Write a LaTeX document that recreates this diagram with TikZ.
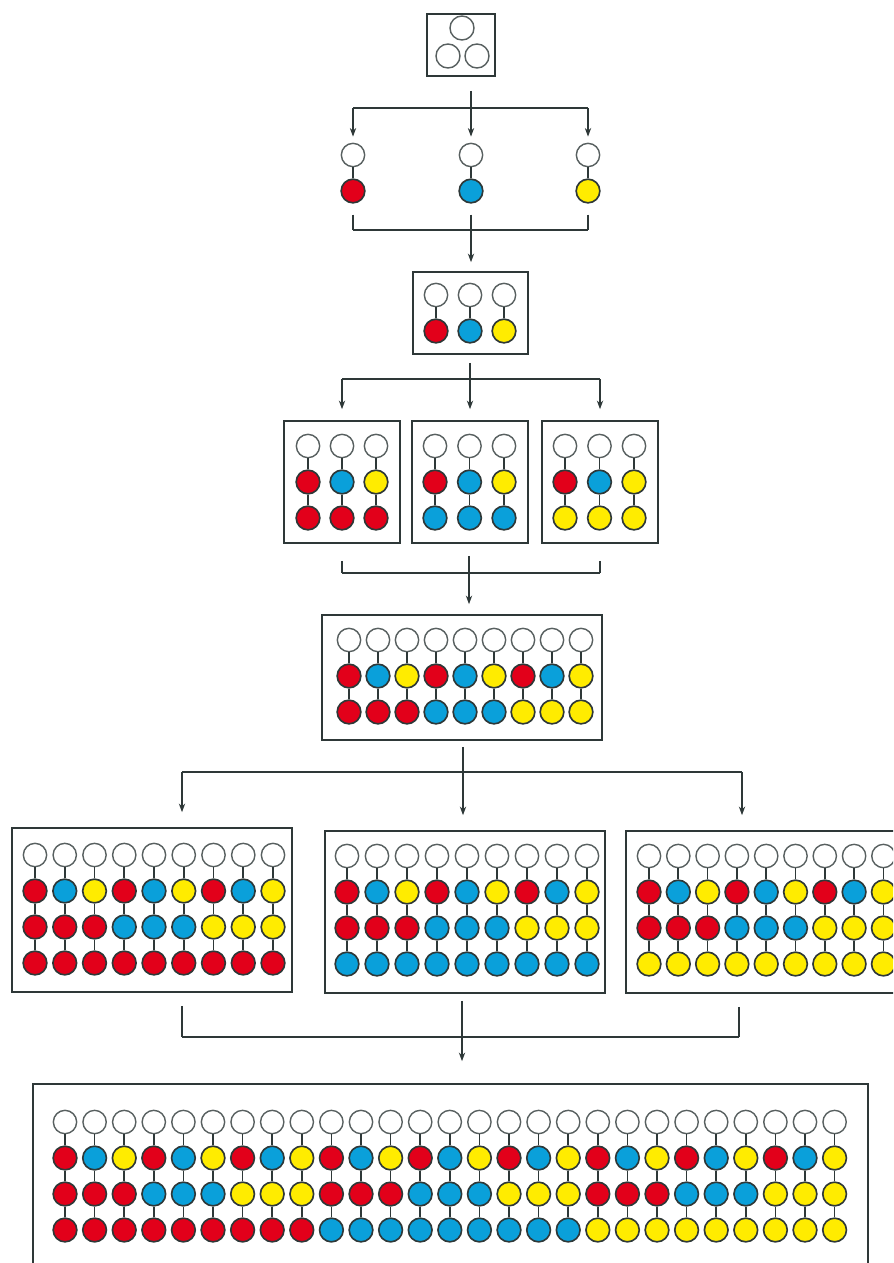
\documentclass[tikz,border=0pt]{standalone}
\usetikzlibrary{arrows.meta,fit}
\definecolor{bead0}{HTML}{E2001A}
\definecolor{bead1}{HTML}{0AA0DA}
\definecolor{bead2}{HTML}{FFEC00}
\definecolor{ink}{HTML}{2E3838}
\tikzset{
  slot/.style={circle, draw=ink!80, line width=1.2pt, fill=white, inner sep=0pt, minimum size=7mm},
  bead/.style={circle, draw=ink, line width=1.4pt, inner sep=0pt, minimum size=7.1mm},
  stem/.style={draw=ink, line width=1.4pt},
  tray/.style={draw=ink, line width=1.4pt, inner sep=0pt},
  wire/.style={draw=ink, line width=1.1pt},
  feed/.style={-{Stealth[length=2.6mm,width=1.9mm]}}
}

\begin{document}
\begin{tikzpicture}[x=0.3mm, y=-0.3mm]
  \useasboundingbox (0,0) rectangle (893,1263);
  \clip (0,0) rectangle (893,1263);
  % trays
  \node[tray, fit={(427,14) (495,76)}] (top) {};
  \node[tray, fit={(413,272) (528,354)}] (b2) {};
  \node[tray, fit={(284,421) (400,543)}] (b3a) {};
  \node[tray, fit={(412,421) (528,543)}] (b3b) {};
  \node[tray, fit={(542,421) (658,543)}] (b3c) {};
  \node[tray, fit={(322,615) (602,740)}] (b4) {};
  \node[tray, fit={(12,828) (292,992)}] (b5a) {};
  \node[tray, fit={(325,831) (605,993)}] (b5b) {};
  \node[tray, fit={(626,831) (930,993)}] (b5c) {};
  \node[tray, fit={(33,1084) (868,1300)}] (b6) {};
  % three empty places
  \node[slot, minimum size=7.2mm] (t1) at (462,28) {};
  \node[slot, minimum size=7.2mm] (t2) at (448,56) {};
  \node[slot, minimum size=7.2mm] (t3) at (477,56) {};
  % bead columns: name / first index / count / x / dx / y / levels
  \foreach \bx/\gi/\n/\xa/\dx/\ya/\lv in {
      p0/0/1/353/0/155/1, p1/1/1/471/0/155/1, p2/2/1/588/0/155/1,
      b2/0/3/436/34/295/1,
      b3a/0/3/308/34/446/2, b3b/3/3/435/34.5/446/2, b3c/6/3/565/34.5/446/2,
      b4/0/9/349/29/640/2,
      b5a/0/9/35/29.75/855/3, b5b/9/9/347/30/856/3, b5c/18/9/649/29.3/856/3,
      b6/0/27/65/29.6/1122/3}{
    \pgfmathtruncatemacro\nm{\n-1}
    \foreach \i in {0,...,\nm}{
      \pgfmathsetmacro\x{\xa+\i*\dx}
      \pgfmathtruncatemacro\g{\gi+\i}
      \node[slot] (\bx-\i-0) at (\x,\ya) {};
      \foreach \l in {1,...,\lv}{
        \pgfmathtruncatemacro\c{mod(floor((\g+0.5)/3^(\l-1)),3)}
        \pgfmathtruncatemacro\k{\l-1}
        \node[bead, fill=bead\c] (\bx-\i-\l) at (\x,\ya+\l*36) {};
        \draw[stem] (\bx-\i-\k) -- (\bx-\i-\l);
      }
    }
  }
  % split 1
  \coordinate (s1) at (471,108);
  \draw[wire] ([yshift=-4.2mm]top.south -| s1) -- (s1);
  \draw[wire] (s1 -| p0-0-0) -- (s1 -| p2-0-0);
  \foreach \p in {p0,p1,p2}
    \draw[wire,feed] (s1 -| \p-0-0) -- ([yshift=1.8mm]\p-0-0.north);
  % merge 1
  \coordinate (m1) at (471,230);
  \foreach \p in {p0,p2}
    \draw[wire] ([yshift=-3.3mm]\p-0-1.south) -- (m1 -| \p-0-1);
  \draw[wire] (m1 -| p0-0-1) -- (m1 -| p2-0-1);
  \draw[wire,feed] ([yshift=-3.3mm]p1-0-1.south) -- ([yshift=2.7mm]b2.north -| m1);
  % split 2
  \coordinate (s2) at (470,379);
  \draw[wire] ([yshift=-2.4mm]b2.south -| s2) -- (s2);
  \draw[wire] (s2 -| b3a) -- (s2 -| b3c);
  \foreach \b in {b3a,b3b,b3c}
    \draw[wire,feed] (s2 -| \b) -- ([yshift=3.3mm]\b.north);
  % merge 2
  \coordinate (m2) at (469,573);
  \foreach \b in {b3a,b3c}
    \draw[wire] ([yshift=-5.1mm]\b.south) -- (m2 -| \b);
  \draw[wire] (m2 -| b3a) -- (m2 -| b3c);
  \draw[wire,feed] ([yshift=-3.6mm]b3b.south -| m2) -- ([yshift=3mm]b4.north -| m2);
  % split 3
  \coordinate (s3) at (463,772);
  \coordinate (s3a) at (182,772);
  \coordinate (s3c) at (742,772);
  \draw[wire] ([yshift=-1.8mm]b4.south -| s3) -- (s3);
  \draw[wire] (s3a) -- (s3c);
  \foreach \s/\b in {s3a/b5a,s3/b5b,s3c/b5c}
    \draw[wire,feed] (\s) -- ([yshift=4.5mm]\b.north -| \s);
  % merge 3
  \coordinate (m3) at (462,1037);
  \coordinate (m3a) at (182,1037);
  \coordinate (m3c) at (739,1037);
  \foreach \s/\b in {m3a/b5a,m3c/b5c}
    \draw[wire] ([yshift=-3.9mm]\b.south -| \s) -- (\s);
  \draw[wire] (m3a) -- (m3c);
  \draw[wire,feed] ([yshift=-2.1mm]b5b.south -| m3) -- ([yshift=6.6mm]b6.north -| m3);
\end{tikzpicture}
\end{document}
